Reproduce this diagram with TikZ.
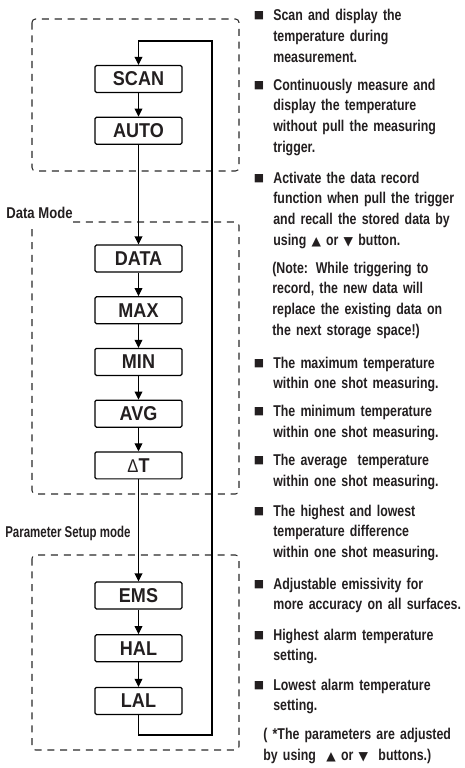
\documentclass[tikz,border=0pt]{standalone}
\usepackage{fontspec}
\setmainfont{Liberation Sans}
\newfontfamily\descfont{Liberation Sans Bold}[FakeStretch=0.79]
\newfontfamily\boxfont{Liberation Sans}[FakeStretch=0.9]
\newfontfamily\symfont{DejaVu Sans}
\usetikzlibrary{arrows.meta}
\usetikzlibrary{positioning}
\tikzset{>={Triangle[length=4.5pt,width=4.4pt]}}
\definecolor{framegray}{HTML}{2A2A2A}
\definecolor{inkblack}{HTML}{231F20}
\newcommand{\upkey}{{\symfont\fontsize{7}{7}\selectfont ▲}}
\newcommand{\downkey}{{\symfont\fontsize{7}{7}\selectfont ▼}}
\tikzset{
  modebox/.style={draw, line width=0.7pt, rounded corners=0.8pt, minimum width=1.74cm,
    minimum height=0.54cm, inner sep=0pt, text=inkblack,
    font=\boxfont\bfseries\fontsize{11.4}{13}\selectfont},
  frame/.style={draw=framegray, line width=0.6pt, dash pattern=on 4pt off 3.3pt, rounded corners=2pt},
  flow/.style={->, line width=0.6pt},
  desc/.style={anchor=base west, inner sep=0pt, align=left, text width=4.6cm, text=inkblack,
    font=\descfont\fontsize{8.9}{11.9}\selectfont},
  modelabel/.style={anchor=base west, inner sep=0pt, text=inkblack,
    font=\descfont\fontsize{8.9}{11.9}\selectfont},
  bullet/.style={inner sep=0pt, text=inkblack, font=\symfont\fontsize{6.2}{6.2}\selectfont}
}

\begin{document}
\begin{tikzpicture}[x=0.02cm, y=-0.02cm]
  \useasboundingbox (0,0) rectangle (464,768);

  % dashed mode frames
  \draw[frame] (32,19) rectangle (239,171);
  \draw[frame] (73,222) -- (239,222) -- (239,494) -- (32,494) -- (32,228);
  \draw[frame] (32,555) rectangle (239,750);
  \node[modelabel, transform shape, xscale=1.06] (datalabel) at (6,218) {Data Mode};
  \node[modelabel, transform shape, xscale=0.93] (paramlabel) at (5,537) {Parameter Setup mode};

  % mode boxes
  \node[modebox] (scan) at (138.5,79) {SCAN};
  \node[modebox, below=0.47cm of scan] (auto) {AUTO};
  \node[modebox] (data) at (138.5,258.5) {DATA};
  \node[modebox, below=0.47cm of data] (max) {MAX};
  \node[modebox, below=0.47cm of max] (min) {MIN};
  \node[modebox, below=0.47cm of min] (avg) {AVG};
  \node[modebox, below=0.47cm of avg] (delta) {{\mdseries\fontsize{10.5}{11}\selectfont Δ}T};
  \node[modebox] (ems) at (138.5,595.5) {EMS};
  \node[modebox, below=0.49cm of ems] (hal) {HAL};
  \node[modebox, below=0.49cm of hal] (lal) {LAL};

  % connectors
  \draw[flow] (scan) -- (auto);
  \draw[flow] (auto) -- (data);
  \draw[flow] (data) -- (max);
  \draw[flow] (max) -- (min);
  \draw[flow] (min) -- (avg);
  \draw[flow] (avg) -- (delta);
  \draw[flow] (delta) -- (ems);
  \draw[flow] (ems) -- (hal);
  \draw[flow] (hal) -- (lal);
  \coordinate (loopbot) at (212,735);
  \coordinate (looptop) at (212,41);
  \draw[flow] (lal.south) |- (loopbot) -- (looptop) -| (scan.north);

  % descriptions
  \foreach \y [count=\i] in {20.5,90,183,368,416.5,465.5,516,589,640,690}
    \node[bullet] (bul\i) at (259,\y-4.8) {■};
  \node[desc] (scantext) at (273,20.5) {Scan and display the\\temperature during\\measurement.};
  \node[desc] (autotext) at (273,90) {Continuously measure and\\display the temperature\\without pull the measuring\\trigger.};
  \node[desc] (datatext) at (273,183) {Activate the data record\\function when pull the trigger\\and recall the stored data by\\using \upkey\ or \downkey\ button.};
  \node[desc] (notetext) at (272,273) {(Note: While triggering to\\record, the new data will\\replace the existing data on\\the next storage space!)};
  \node[desc] (maxtext) at (273,368) {The maximum temperature\\within one shot measuring.};
  \node[desc] (mintext) at (273,416.5) {The minimum temperature\\within one shot measuring.};
  \node[desc] (avgtext) at (273,465.5) {The average\ \ temperature\\within one shot measuring.};
  \node[desc] (deltatext) at (273,516) {The highest and lowest\\temperature difference\\within one shot measuring.};
  \node[desc] (emstext) at (273,589) {Adjustable emissivity for\\more accuracy on all surfaces.};
  \node[desc] (haltext) at (273,640) {Highest alarm temperature\\setting.};
  \node[desc] (laltext) at (273,690) {Lowest alarm temperature\\setting.};
  \node[desc] (adjusttext) at (263,739.5) {( *The parameters are adjusted\\by using\ \ \upkey\ or \downkey\ \ buttons.)};
\end{tikzpicture}
\end{document}
